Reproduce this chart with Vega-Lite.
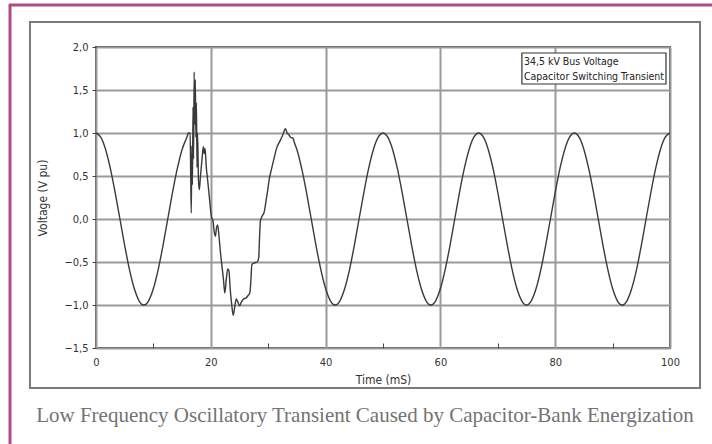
{
  "$schema": "https://vega.github.io/schema/vega-lite/v6.json",
  "width": 574,
  "height": 301,
  "autosize": {"type": "none"},
  "padding": {"left": 96, "top": 47, "right": 42, "bottom": 96},
  "background": "white",
  "title": {
    "text": "Low Frequency Oscillatory Transient Caused by Capacitor-Bank Energization",
    "orient": "bottom",
    "anchor": "middle",
    "font": "Liberation Serif",
    "fontSize": 21,
    "fontWeight": "normal",
    "color": "#737373",
    "offset": -48,
    "dx": -18
  },
  "config": {
    "view": {"stroke": "#555555", "strokeWidth": 2},
    "axis": {
      "domain": false,
      "labelFont": "Liberation Sans Narrow, DejaVu Sans Condensed, Liberation Sans",
      "titleFont": "Liberation Sans Narrow, DejaVu Sans Condensed, Liberation Sans",
      "labelColor": "#333333",
      "titleColor": "#333333",
      "labelFontSize": 11,
      "titleFontSize": 12,
      "titleFontWeight": "normal",
      "gridColor": "#9a9a9a",
      "gridWidth": 2,
      "tickColor": "#444444",
      "labelOverlap": false,
      "labelFlush": false
    }
  },
  "data": {
    "values": [
      {"time_ms": 0, "voltage_pu": 1},
      {"time_ms": 0.83, "voltage_pu": 0.951},
      {"time_ms": 1.67, "voltage_pu": 0.809},
      {"time_ms": 2.5, "voltage_pu": 0.588},
      {"time_ms": 3.33, "voltage_pu": 0.309},
      {"time_ms": 4.17, "voltage_pu": 0},
      {"time_ms": 5, "voltage_pu": -0.309},
      {"time_ms": 5.83, "voltage_pu": -0.588},
      {"time_ms": 6.67, "voltage_pu": -0.809},
      {"time_ms": 7.5, "voltage_pu": -0.951},
      {"time_ms": 8.33, "voltage_pu": -1},
      {"time_ms": 9.17, "voltage_pu": -0.951},
      {"time_ms": 10, "voltage_pu": -0.809},
      {"time_ms": 10.83, "voltage_pu": -0.588},
      {"time_ms": 11.67, "voltage_pu": -0.309},
      {"time_ms": 12.5, "voltage_pu": 0},
      {"time_ms": 13.33, "voltage_pu": 0.309},
      {"time_ms": 14.17, "voltage_pu": 0.588},
      {"time_ms": 15, "voltage_pu": 0.809},
      {"time_ms": 15.83, "voltage_pu": 0.951},
      {"time_ms": 16.1, "voltage_pu": 1.0},
      {"time_ms": 16.4, "voltage_pu": 1.0},
      {"time_ms": 16.5, "voltage_pu": 0.5},
      {"time_ms": 16.6, "voltage_pu": 0.07},
      {"time_ms": 16.7, "voltage_pu": 0.85},
      {"time_ms": 16.8, "voltage_pu": 0.4},
      {"time_ms": 16.9, "voltage_pu": 1.3},
      {"time_ms": 17.0, "voltage_pu": 0.7},
      {"time_ms": 17.1, "voltage_pu": 1.71},
      {"time_ms": 17.2, "voltage_pu": 1.1},
      {"time_ms": 17.3, "voltage_pu": 1.62},
      {"time_ms": 17.4, "voltage_pu": 0.95},
      {"time_ms": 17.5, "voltage_pu": 1.35},
      {"time_ms": 17.6, "voltage_pu": 0.6},
      {"time_ms": 17.7, "voltage_pu": 1.0},
      {"time_ms": 17.85, "voltage_pu": 0.45},
      {"time_ms": 18.0, "voltage_pu": 0.34},
      {"time_ms": 18.2, "voltage_pu": 0.5},
      {"time_ms": 18.45, "voltage_pu": 0.68},
      {"time_ms": 18.7, "voltage_pu": 0.84},
      {"time_ms": 18.85, "voltage_pu": 0.76},
      {"time_ms": 19.0, "voltage_pu": 0.82},
      {"time_ms": 19.2, "voltage_pu": 0.62},
      {"time_ms": 19.5, "voltage_pu": 0.42},
      {"time_ms": 19.8, "voltage_pu": 0.22},
      {"time_ms": 20.1, "voltage_pu": 0.03},
      {"time_ms": 20.4, "voltage_pu": -0.03},
      {"time_ms": 20.6, "voltage_pu": -0.15},
      {"time_ms": 20.8, "voltage_pu": -0.2},
      {"time_ms": 21.0, "voltage_pu": -0.1},
      {"time_ms": 21.2, "voltage_pu": -0.07},
      {"time_ms": 21.4, "voltage_pu": -0.18},
      {"time_ms": 21.7, "voltage_pu": -0.4},
      {"time_ms": 21.95, "voltage_pu": -0.55},
      {"time_ms": 22.2, "voltage_pu": -0.7},
      {"time_ms": 22.45, "voltage_pu": -0.86},
      {"time_ms": 22.7, "voltage_pu": -0.7},
      {"time_ms": 22.95, "voltage_pu": -0.58},
      {"time_ms": 23.15, "voltage_pu": -0.6},
      {"time_ms": 23.4, "voltage_pu": -0.83},
      {"time_ms": 23.65, "voltage_pu": -1.0},
      {"time_ms": 23.9, "voltage_pu": -1.12},
      {"time_ms": 24.15, "voltage_pu": -1.03},
      {"time_ms": 24.45, "voltage_pu": -0.93},
      {"time_ms": 24.75, "voltage_pu": -0.97},
      {"time_ms": 25.0, "voltage_pu": -1.01},
      {"time_ms": 25.3, "voltage_pu": -0.97},
      {"time_ms": 25.7, "voltage_pu": -0.93},
      {"time_ms": 26.1, "voltage_pu": -0.92},
      {"time_ms": 26.5, "voltage_pu": -0.89},
      {"time_ms": 26.8, "voltage_pu": -0.86},
      {"time_ms": 27.0, "voltage_pu": -0.7},
      {"time_ms": 27.15, "voltage_pu": -0.53},
      {"time_ms": 27.6, "voltage_pu": -0.51},
      {"time_ms": 28.1, "voltage_pu": -0.5},
      {"time_ms": 28.35, "voltage_pu": -0.45},
      {"time_ms": 28.5, "voltage_pu": -0.2},
      {"time_ms": 28.65, "voltage_pu": -0.02},
      {"time_ms": 29.0, "voltage_pu": 0.04},
      {"time_ms": 29.3, "voltage_pu": 0.08},
      {"time_ms": 29.6, "voltage_pu": 0.2},
      {"time_ms": 29.9, "voltage_pu": 0.33},
      {"time_ms": 30.2, "voltage_pu": 0.47},
      {"time_ms": 30.5, "voltage_pu": 0.56},
      {"time_ms": 31.0, "voltage_pu": 0.7},
      {"time_ms": 31.5, "voltage_pu": 0.83},
      {"time_ms": 32.0, "voltage_pu": 0.9},
      {"time_ms": 32.5, "voltage_pu": 0.97},
      {"time_ms": 33.0, "voltage_pu": 1.05},
      {"time_ms": 33.3, "voltage_pu": 1.0},
      {"time_ms": 33.6, "voltage_pu": 0.98},
      {"time_ms": 33.9, "voltage_pu": 0.95},
      {"time_ms": 34.3, "voltage_pu": 0.94},
      {"time_ms": 34.6, "voltage_pu": 0.88},
      {"time_ms": 35.0, "voltage_pu": 0.809},
      {"time_ms": 35.83, "voltage_pu": 0.588},
      {"time_ms": 36.67, "voltage_pu": 0.309},
      {"time_ms": 37.5, "voltage_pu": 0},
      {"time_ms": 38.33, "voltage_pu": -0.309},
      {"time_ms": 39.17, "voltage_pu": -0.588},
      {"time_ms": 40, "voltage_pu": -0.809},
      {"time_ms": 40.83, "voltage_pu": -0.951},
      {"time_ms": 41.67, "voltage_pu": -1},
      {"time_ms": 42.5, "voltage_pu": -0.951},
      {"time_ms": 43.33, "voltage_pu": -0.809},
      {"time_ms": 44.17, "voltage_pu": -0.588},
      {"time_ms": 45, "voltage_pu": -0.309},
      {"time_ms": 45.83, "voltage_pu": 0},
      {"time_ms": 46.67, "voltage_pu": 0.309},
      {"time_ms": 47.5, "voltage_pu": 0.588},
      {"time_ms": 48.33, "voltage_pu": 0.809},
      {"time_ms": 49.17, "voltage_pu": 0.951},
      {"time_ms": 50, "voltage_pu": 1},
      {"time_ms": 50.83, "voltage_pu": 0.951},
      {"time_ms": 51.67, "voltage_pu": 0.809},
      {"time_ms": 52.5, "voltage_pu": 0.588},
      {"time_ms": 53.33, "voltage_pu": 0.309},
      {"time_ms": 54.17, "voltage_pu": 0},
      {"time_ms": 55, "voltage_pu": -0.309},
      {"time_ms": 55.83, "voltage_pu": -0.588},
      {"time_ms": 56.67, "voltage_pu": -0.809},
      {"time_ms": 57.5, "voltage_pu": -0.951},
      {"time_ms": 58.33, "voltage_pu": -1},
      {"time_ms": 59.17, "voltage_pu": -0.951},
      {"time_ms": 60, "voltage_pu": -0.809},
      {"time_ms": 60.83, "voltage_pu": -0.588},
      {"time_ms": 61.67, "voltage_pu": -0.309},
      {"time_ms": 62.5, "voltage_pu": 0},
      {"time_ms": 63.33, "voltage_pu": 0.309},
      {"time_ms": 64.17, "voltage_pu": 0.588},
      {"time_ms": 65, "voltage_pu": 0.809},
      {"time_ms": 65.83, "voltage_pu": 0.951},
      {"time_ms": 66.67, "voltage_pu": 1},
      {"time_ms": 67.5, "voltage_pu": 0.951},
      {"time_ms": 68.33, "voltage_pu": 0.809},
      {"time_ms": 69.17, "voltage_pu": 0.588},
      {"time_ms": 70, "voltage_pu": 0.309},
      {"time_ms": 70.83, "voltage_pu": 0},
      {"time_ms": 71.67, "voltage_pu": -0.309},
      {"time_ms": 72.5, "voltage_pu": -0.588},
      {"time_ms": 73.33, "voltage_pu": -0.809},
      {"time_ms": 74.17, "voltage_pu": -0.951},
      {"time_ms": 75, "voltage_pu": -1},
      {"time_ms": 75.83, "voltage_pu": -0.951},
      {"time_ms": 76.67, "voltage_pu": -0.809},
      {"time_ms": 77.5, "voltage_pu": -0.588},
      {"time_ms": 78.33, "voltage_pu": -0.309},
      {"time_ms": 79.17, "voltage_pu": 0},
      {"time_ms": 80, "voltage_pu": 0.309},
      {"time_ms": 80.83, "voltage_pu": 0.588},
      {"time_ms": 81.67, "voltage_pu": 0.809},
      {"time_ms": 82.5, "voltage_pu": 0.951},
      {"time_ms": 83.33, "voltage_pu": 1},
      {"time_ms": 84.17, "voltage_pu": 0.951},
      {"time_ms": 85, "voltage_pu": 0.809},
      {"time_ms": 85.83, "voltage_pu": 0.588},
      {"time_ms": 86.67, "voltage_pu": 0.309},
      {"time_ms": 87.5, "voltage_pu": 0},
      {"time_ms": 88.33, "voltage_pu": -0.309},
      {"time_ms": 89.17, "voltage_pu": -0.588},
      {"time_ms": 90, "voltage_pu": -0.809},
      {"time_ms": 90.83, "voltage_pu": -0.951},
      {"time_ms": 91.67, "voltage_pu": -1},
      {"time_ms": 92.5, "voltage_pu": -0.951},
      {"time_ms": 93.33, "voltage_pu": -0.809},
      {"time_ms": 94.17, "voltage_pu": -0.588},
      {"time_ms": 95, "voltage_pu": -0.309},
      {"time_ms": 95.83, "voltage_pu": 0},
      {"time_ms": 96.67, "voltage_pu": 0.309},
      {"time_ms": 97.5, "voltage_pu": 0.588},
      {"time_ms": 98.33, "voltage_pu": 0.809},
      {"time_ms": 99.17, "voltage_pu": 0.951},
      {"time_ms": 100, "voltage_pu": 1}
    ]
  },
  "layer": [
    {
      "mark": {"type": "line", "color": "#3a3a3a", "strokeWidth": 1.4, "interpolate": "monotone"},
      "encoding": {
        "x": {
          "field": "time_ms",
          "type": "quantitative",
          "scale": {"domain": [0, 100], "nice": false, "zero": false},
          "axis": {
            "title": "Time (mS)",
            "values": [0, 10, 20, 30, 40, 50, 60, 70, 80, 90, 100],
            "grid": true,
            "labelExpr": "datum.value % 20 == 0 ? datum.label : ''",
            "gridOpacity": {"condition": {"test": "datum.value % 20 == 0", "value": 1}, "value": 0},
            "tickOpacity": {"condition": {"test": "datum.value % 20 == 0", "value": 0}, "value": 1},
            "tickSize": -5,
            "labelPadding": 13,
            "titlePadding": 7
          }
        },
        "y": {
          "field": "voltage_pu",
          "type": "quantitative",
          "scale": {"domain": [-1.5, 2], "nice": false, "zero": false},
          "axis": {
            "title": "Voltage (V pu)",
            "values": [-1.5, -1.4375, -1.375, -1.3125, -1.25, -1.1875, -1.125, -1.0625, -1, -0.9375, -0.875, -0.8125, -0.75, -0.6875, -0.625, -0.5625, -0.5, -0.4375, -0.375, -0.3125, -0.25, -0.1875, -0.125, -0.0625, 0, 0.0625, 0.125, 0.1875, 0.25, 0.3125, 0.375, 0.4375, 0.5, 0.5625, 0.625, 0.6875, 0.75, 0.8125, 0.875, 0.9375, 1, 1.0625, 1.125, 1.1875, 1.25, 1.3125, 1.375, 1.4375, 1.5, 1.5625, 1.625, 1.6875, 1.75, 1.8125, 1.875, 1.9375, 2],
            "grid": true,
            "labelExpr": "datum.value * 2 == round(datum.value * 2) ? replace(format(datum.value, '.1f'), '.', ',') : ''",
            "gridOpacity": {"condition": {"test": "datum.value * 2 == round(datum.value * 2)", "value": 1}, "value": 0},
            "tickSize": 4,
            "labelPadding": 4,
            "titlePadding": 14
          }
        }
      }
    },
    {
      "data": {"values": [{}]},
      "mark": {"type": "rule", "color": "#b04a86", "strokeWidth": 3, "clip": false},
      "encoding": {
        "x": {"datum": -14.98, "type": "quantitative", "scale": {"domain": [0, 100], "nice": false, "zero": false}},
        "y": {"datum": 2.488, "type": "quantitative", "scale": {"domain": [-1.5, 2], "nice": false, "zero": false}},
        "y2": {"datum": -2.7}
      }
    },
    {
      "data": {"values": [{}]},
      "mark": {"type": "rule", "color": "#b04a86", "strokeWidth": 3, "clip": false},
      "encoding": {
        "x": {"datum": -15.2, "type": "quantitative", "scale": {"domain": [0, 100], "nice": false, "zero": false}},
        "x2": {"datum": 112},
        "y": {"datum": 2.488, "type": "quantitative", "scale": {"domain": [-1.5, 2], "nice": false, "zero": false}}
      }
    },
    {
      "data": {"values": [{}]},
      "mark": {"type": "rect", "filled": false, "stroke": "#7a7a7a", "strokeWidth": 2, "clip": false},
      "encoding": {
        "x": {"datum": -11.5, "type": "quantitative", "scale": {"domain": [0, 100], "nice": false, "zero": false}},
        "x2": {"datum": 105.23},
        "y": {"datum": 2.291, "type": "quantitative", "scale": {"domain": [-1.5, 2], "nice": false, "zero": false}},
        "y2": {"datum": -1.965}
      }
    },
    {
      "data": {"values": [{}]},
      "mark": {"type": "rect", "fill": "white", "stroke": "#333333", "strokeWidth": 1.2, "clip": false},
      "encoding": {
        "x": {"datum": 74.2, "type": "quantitative", "scale": {"domain": [0, 100], "nice": false, "zero": false}},
        "x2": {"datum": 99.3},
        "y": {"datum": 1.93, "type": "quantitative", "scale": {"domain": [-1.5, 2], "nice": false, "zero": false}},
        "y2": {"datum": 1.57}
      }
    },
    {
      "data": {"values": [{}]},
      "mark": {
        "type": "text",
        "align": "left",
        "baseline": "middle",
        "font": "Liberation Sans Narrow, DejaVu Sans Condensed, Liberation Sans",
        "fontSize": 10.5,
        "color": "#222222",
        "lineBreak": "\n",
        "lineHeight": 15,
        "text": "34,5 kV Bus Voltage\nCapacitor Switching Transient"
      },
      "encoding": {
        "x": {"datum": 74.55, "type": "quantitative", "scale": {"domain": [0, 100], "nice": false, "zero": false}},
        "y": {"datum": 1.829, "type": "quantitative", "scale": {"domain": [-1.5, 2], "nice": false, "zero": false}}
      }
    }
  ]
}
